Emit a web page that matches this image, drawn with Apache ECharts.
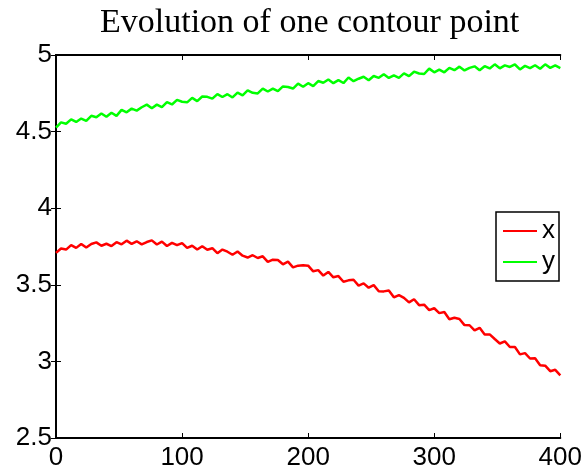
<!DOCTYPE html>
<html><head><meta charset="utf-8">
<script src="https://cdn.jsdelivr.net/npm/echarts@6/dist/echarts.min.js"></script>
<style>html,body{margin:0;padding:0;background:#fff}#c{width:585px;height:471px}</style>
</head><body><div id="c"></div>
<script>
const titleText = 'Evolution of one contour point';
const seriesNames = ['x', 'y'];
const xTicks = [0, 100, 200, 300, 400];
const yTicks = [2.5, 3, 3.5, 4, 4.5, 5];
const frames = [0,4,8,12,16,20,24,28,32,36,40,44,48,52,56,60,64,68,72,76,80,84,88,92,96,100,
104,108,112,116,120,124,128,132,136,140,144,148,152,156,160,164,168,172,176,180,184,188,192,196,200,
204,208,212,216,220,224,228,232,236,240,244,248,252,256,260,264,268,272,276,280,284,288,292,296,300,
304,308,312,316,320,324,328,332,336,340,344,348,352,356,360,364,368,372,376,380,384,388,392,396,400];
const xValues = [3.708,3.737,3.730,3.759,3.741,3.767,3.743,3.766,3.777,3.755,3.768,3.753,3.778,3.764,3.788,3.767,3.784,3.764,3.779,3.790,
3.763,3.782,3.753,3.774,3.759,3.772,3.741,3.755,3.730,3.752,3.729,3.739,3.706,3.730,3.716,3.696,3.717,3.690,3.678,3.693,
3.675,3.686,3.650,3.664,3.662,3.634,3.651,3.614,3.625,3.628,
3.625,3.588,3.596,3.560,3.584,3.549,3.557,3.520,3.529,3.533,3.495,3.509,3.481,3.498,3.458,3.457,3.463,3.418,3.433,3.415,
3.385,3.406,3.367,3.370,3.335,3.347,3.315,3.322,3.275,3.285,3.277,3.237,3.236,3.202,3.219,3.176,3.176,3.146,3.117,3.131,
3.094,3.094,3.046,3.054,3.019,3.020,2.975,2.972,2.936,2.945,2.909];
const yValues = [4.526,4.560,4.551,4.580,4.563,4.585,4.570,4.603,4.594,4.618,4.597,4.623,4.603,4.642,4.626,4.650,4.637,4.659,4.676,4.653,
4.676,4.660,4.692,4.677,4.707,4.695,4.691,4.720,4.699,4.729,4.727,4.715,4.745,4.726,4.744,4.723,4.754,4.737,4.769,4.753,
4.749,4.781,4.762,4.781,4.764,4.795,4.791,4.781,4.813,4.793,4.816,4.797,4.830,4.819,4.840,4.816,4.836,4.817,4.853,4.829,
4.845,4.858,4.835,4.863,4.851,4.875,4.850,4.867,4.851,4.880,4.862,4.891,4.879,4.876,4.911,4.887,4.905,4.887,4.916,4.901,
4.924,4.899,4.916,4.926,4.901,4.927,4.912,4.939,4.913,4.932,4.922,4.938,4.906,4.929,4.914,4.933,4.910,4.939,4.916,4.932,4.915];

const pair = (vals) => frames.map((f, i) => [f, vals[i]]);
const sans = "'Liberation Sans', Arial, Helvetica, sans-serif";
const serif = "'Liberation Serif', 'Times New Roman', serif";
const axisCommon = {
  min: 0, max: 400, interval: 100,
  axisLine: { show: true, lineStyle: { color: '#000', width: 2 } },
  axisTick: { show: true, inside: true, length: 5, lineStyle: { color: '#000', width: 1 } },
  splitLine: { show: false }
};
const chart = echarts.init(document.getElementById('c'), null, { renderer: 'canvas' });
chart.setOption({
  animation: false,
  backgroundColor: '#fff',
  title: {
    text: titleText, left: 100, top: 6, padding: 0,
    textStyle: { fontFamily: serif, fontSize: 34, fontWeight: 'normal', color: '#000' }
  },
  grid: { left: 56, top: 55, width: 507, height: 383, containLabel: false },
  legend: {
    orient: 'vertical', left: 496, top: 212,
    data: seriesNames,
    icon: 'rect', itemWidth: 34, itemHeight: 2, itemGap: 5, itemTextGap: 3,
    padding: [6, 4, 6, 7],
    borderColor: '#000', borderWidth: 1.5, backgroundColor: '#fff',
    textStyle: { fontFamily: sans, fontSize: 26, color: '#000' }
  },
  xAxis: [
    Object.assign({}, axisCommon, {
      type: 'value', position: 'bottom',
      axisLabel: { show: true, margin: 7, fontFamily: sans, fontSize: 26, color: '#000',
        formatter: v => xTicks.includes(v) ? String(v) : '' }
    }),
    Object.assign({}, axisCommon, {
      type: 'value', position: 'top', axisLabel: { show: false }
    })
  ],
  yAxis: [
    Object.assign({}, axisCommon, {
      type: 'value', min: 2.5, max: 5, interval: 0.5, position: 'left',
      axisLabel: { show: true, margin: 4, fontFamily: sans, fontSize: 26, color: '#000',
        formatter: v => yTicks.includes(v) ? String(v) : '' }
    }),
    Object.assign({}, axisCommon, {
      type: 'value', min: 2.5, max: 5, interval: 0.5, position: 'right',
      axisLabel: { show: false }
    })
  ],
  series: [
    { name: seriesNames[0], type: 'line', data: pair(xValues), showSymbol: false, symbol: 'none',
      lineStyle: { color: '#ff0000', width: 2.5 }, itemStyle: { color: '#ff0000' } },
    { name: seriesNames[1], type: 'line', data: pair(yValues), showSymbol: false, symbol: 'none',
      lineStyle: { color: '#00ff00', width: 2.5 }, itemStyle: { color: '#00ff00' } }
  ]
});
</script></body></html>
